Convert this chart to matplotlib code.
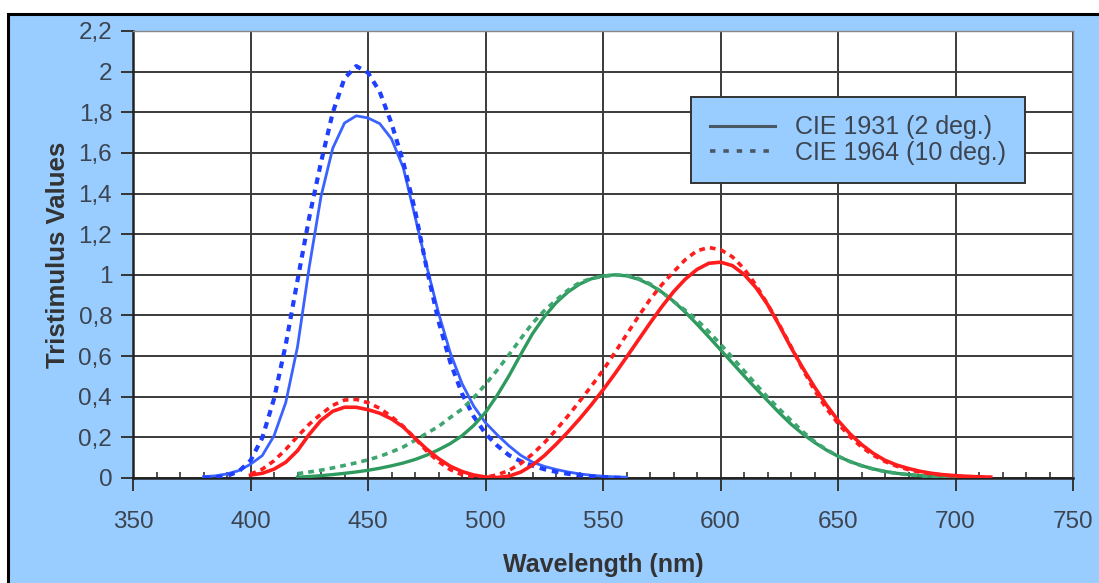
import numpy as np
import matplotlib
matplotlib.use("Agg")
import matplotlib.pyplot as plt
from matplotlib.patches import Rectangle
from matplotlib.lines import Line2D
from matplotlib.ticker import MultipleLocator, FuncFormatter

# ---- data (CIE colour matching functions, 5 nm steps) ----
wl_x = np.arange(400, 716, 5)
x1931 = [0.01431, 0.02319, 0.04351, 0.07763, 0.13438, 0.21477, 0.2839, 0.3285, 0.34828, 0.34806,
         0.3362, 0.3187, 0.2908, 0.2511, 0.19536, 0.1421, 0.09564, 0.05795, 0.03201, 0.0147,
         0.0049, 0.0024, 0.0093, 0.0291, 0.06327, 0.1096, 0.1655, 0.22575, 0.2904, 0.3597,
         0.43345, 0.51205, 0.5945, 0.6784, 0.7621, 0.8425, 0.9163, 0.9786, 1.0263, 1.0567,
         1.0622, 1.0456, 1.0026, 0.9384, 0.85445, 0.7514, 0.6424, 0.5419, 0.4479, 0.3608,
         0.2835, 0.2187, 0.1649, 0.1212, 0.0874, 0.0636, 0.04677, 0.0329, 0.0227, 0.01584,
         0.011359, 0.008111, 0.00579, 0.004109]
x1964 = [0.01911, 0.0434, 0.084736, 0.140638, 0.204492, 0.264737, 0.314679, 0.357719, 0.383734, 0.386726,
         0.370702, 0.342957, 0.302273, 0.254085, 0.195618, 0.132349, 0.080507, 0.041072, 0.016172, 0.005132,
         0.003816, 0.015444, 0.037465, 0.071358, 0.117749, 0.172953, 0.236491, 0.304213, 0.376772, 0.451584,
         0.529826, 0.616053, 0.705224, 0.793832, 0.878655, 0.951162, 1.01416, 1.0743, 1.11852, 1.1343,
         1.12399, 1.0891, 1.03048, 0.95074, 0.856297, 0.75493, 0.647467, 0.53511, 0.431567, 0.34369,
         0.268329, 0.2043, 0.152568, 0.11221, 0.081261, 0.05793, 0.040851, 0.028623, 0.019941, 0.013842,
         0.009577, 0.006605, 0.004553, 0.003145]

wl_y = np.arange(420, 701, 5)
y1931 = [0.004, 0.0073, 0.0116, 0.01684, 0.023, 0.0298, 0.038, 0.048, 0.06, 0.0739,
         0.09098, 0.1126, 0.13902, 0.1693, 0.20802, 0.2586, 0.323, 0.4073, 0.503, 0.6082,
         0.71, 0.7932, 0.862, 0.91485, 0.954, 0.9803, 0.99495, 1.0, 0.995, 0.9786,
         0.952, 0.9154, 0.87, 0.8163, 0.757, 0.6949, 0.631, 0.5668, 0.503, 0.4412,
         0.381, 0.321, 0.265, 0.217, 0.175, 0.1382, 0.107, 0.0816, 0.061, 0.04458,
         0.032, 0.0232, 0.017, 0.01192, 0.00821, 0.005723, 0.004102]
y1964 = [0.021391, 0.029497, 0.038676, 0.049602, 0.062077, 0.074704, 0.089456, 0.106256, 0.128201, 0.152761,
         0.18519, 0.21994, 0.253589, 0.297665, 0.339133, 0.395379, 0.460777, 0.53136, 0.606741, 0.68566,
         0.761757, 0.82333, 0.875211, 0.92381, 0.961988, 0.9822, 0.991761, 0.99911, 0.99734, 0.98238,
         0.955552, 0.915175, 0.868934, 0.825623, 0.777405, 0.720353, 0.658341, 0.593878, 0.527963, 0.461834,
         0.398057, 0.339554, 0.283493, 0.228254, 0.179828, 0.140211, 0.107633, 0.081187, 0.060281, 0.044096,
         0.0318, 0.022602, 0.015905, 0.01113, 0.007749, 0.005375, 0.003718]

wl_z = np.arange(380, 561, 5)
z1931 = [0.00645, 0.01055, 0.02005, 0.03621, 0.06785, 0.1102, 0.2074, 0.3713, 0.6456, 1.03905,
         1.3856, 1.62296, 1.74706, 1.7826, 1.77211, 1.7441, 1.6692, 1.5281, 1.28764, 1.0419,
         0.81295, 0.6162, 0.46518, 0.3533, 0.272, 0.2123, 0.1582, 0.1117, 0.07825, 0.05725,
         0.04216, 0.02984, 0.0203, 0.0134, 0.00875, 0.00575, 0.0039]
z1964 = [0.000705, 0.002928, 0.010482, 0.032344, 0.086011, 0.19712, 0.389366, 0.65676, 0.972542, 1.2825,
         1.55348, 1.7985, 1.96728, 2.0273, 1.9948, 1.9007, 1.74537, 1.5549, 1.31756, 1.0302,
         0.772125, 0.57006, 0.415254, 0.302356, 0.218502, 0.159249, 0.112044, 0.082248, 0.060709, 0.04305,
         0.030451, 0.020584, 0.013676, 0.007918, 0.003988, 0.001091, 0.0]

legend_labels = ["CIE 1931 (2 deg.)", "CIE 1964 (10 deg.)"]

# ---- figure ----
plt.rcParams['font.family'] = ['Liberation Sans', 'DejaVu Sans']
fig = plt.figure(figsize=(10.99, 5.83), dpi=100, facecolor='white')
bg = Rectangle((8 / 1099, -0.1), 1.2, (583 - 14) / 583 + 0.1, transform=fig.transFigure,
               facecolor='#99CCFF', edgecolor='black', linewidth=2.2, zorder=-10)
fig.patches.append(bg)

L, R, B, T = 133 / 1099, 1073 / 1099, 1 - 478 / 583, 1 - 31 / 583
ax = fig.add_axes([L, B, R - L, T - B])
ax.set_facecolor('white')

blue_s, blue_d = '#3a62ff', '#1f3fff'
red = '#ff1c1c'
green_s, green_d = '#2f9a5e', '#3fa672'
dash = (0, (1.6, 1.4))

ax.plot(wl_z, z1931, color=blue_s, lw=2.0, zorder=3)
ax.plot(wl_z, z1964, color=blue_d, lw=3.0, linestyle=dash, zorder=3)
ax.plot(wl_y, y1931, color=green_s, lw=2.4, zorder=4)
ax.plot(wl_y, y1964, color=green_d, lw=2.6, linestyle=dash, zorder=4)
ax.plot(wl_x, x1931, color=red, lw=2.6, zorder=5)
ax.plot(wl_x, x1964, color=red, lw=2.6, linestyle=dash, zorder=5)

ax.set_xlim(350, 750)
ax.set_ylim(0, 2.2)
ax.xaxis.set_major_locator(MultipleLocator(50))
ax.xaxis.set_minor_locator(MultipleLocator(10))
ax.yaxis.set_major_locator(MultipleLocator(0.2))
ax.yaxis.set_major_formatter(FuncFormatter(lambda v, p: ('%.1f' % v).rstrip('0').rstrip('.').replace('.', ',') if abs(v) > 1e-9 else '0'))

ax.grid(True, which='major', color='#3a3a3a', linewidth=1.4, zorder=1)
ax.set_axisbelow(True)

tick_col = '#3c4450'
ax.tick_params(axis='x', which='major', direction='out', length=9, width=1.4, colors='#333333',
               labelcolor=tick_col, labelsize=17.5, pad=15)
ax.tick_params(axis='x', which='minor', direction='in', length=4, width=1.2, colors='#333333')
ax.tick_params(axis='y', which='major', direction='out', length=9, width=1.4, colors='#333333',
               labelcolor=tick_col, labelsize=17.5, pad=6)

for side in ['left', 'bottom']:
    ax.spines[side].set_color('#222222')
    ax.spines[side].set_linewidth(1.8)
for side in ['top', 'right']:
    ax.spines[side].set_color('#888888')
    ax.spines[side].set_linewidth(1.0)

ax.set_xlabel('Wavelength (nm)', fontsize=18, fontweight='bold', color='#333333', labelpad=14)
ax.set_ylabel('Tristimulus Values', fontsize=18.5, fontweight='bold', color='#333333', labelpad=6)

handles = [Line2D([], [], color='#4a5866', lw=2.2),
           Line2D([], [], color='#4a5866', lw=2.6, linestyle=(0, (1.5, 2.2)))]
leg = ax.legend(handles, legend_labels, loc='center', bbox_to_anchor=(0.7715, 0.756),
                fontsize=18, frameon=True, fancybox=False, facecolor='#99CCFF',
                edgecolor='#333333', framealpha=1, handlelength=2.6, handletextpad=0.8,
                borderpad=0.75, labelspacing=0.05, borderaxespad=0)
leg.get_frame().set_linewidth(1.4)
for t in leg.get_texts():
    t.set_color('#3c4450')
leg.set_zorder(10)

fig.savefig('out.png', dpi=100, facecolor=fig.get_facecolor())
